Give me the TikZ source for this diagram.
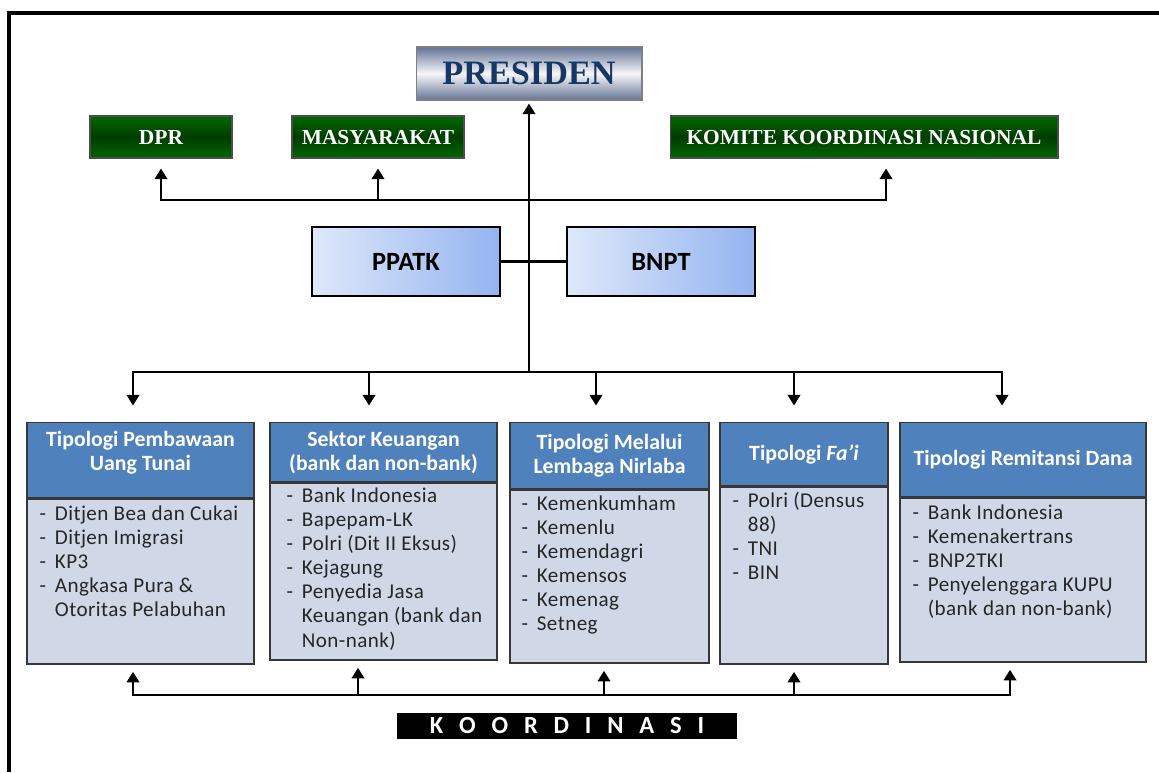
\documentclass[tikz,border=0pt]{standalone}
\usepackage{fontspec}
\setmainfont{Carlito}
\newfontfamily\titlefont{Liberation Serif}
\newfontfamily\listfont[LetterSpace=2]{Carlito}
\usetikzlibrary{positioning,arrows.meta}

\definecolor{presblue}{RGB}{23,55,100}
\definecolor{presedge}{RGB}{100,116,150}
\definecolor{grnlight}{RGB}{0,104,0}
\definecolor{grndark}{RGB}{0,60,0}
\definecolor{boxblue}{RGB}{79,129,189}
\definecolor{boxbody}{RGB}{208,216,232}
\definecolor{boxedge}{RGB}{55,55,55}
\definecolor{ppleft}{RGB}{222,232,250}
\definecolor{ppright}{RGB}{148,180,240}

\newcommand{\dashlist}[1]{\begin{tabular}{@{}l@{\hspace{5pt}}l@{}}#1\end{tabular}}
\newcommand{\ks}{\hspace{9pt}}

\tikzset{
  line/.style={line width=1.5pt},
  arr/.style={line width=1.5pt, -{Triangle[length=6pt,width=7pt]}},
  presbox/.style={draw=gray, line width=0.6pt, top color=presedge, bottom color=presedge,
    middle color=white!94!presedge, text=presblue, inner sep=0pt,
    font=\titlefont\bfseries\fontsize{19.5}{22}\selectfont},
  greenbox/.style={draw=black!70, line width=0.6pt, top color=grnlight, bottom color=grnlight,
    middle color=grndark, text=white, inner sep=0pt, minimum height=0.84cm,
    font=\titlefont\bfseries\fontsize{12.2}{14}\selectfont},
  agency/.style={draw=black, line width=1.2pt, left color=ppleft, right color=ppright,
    minimum width=3.76cm, minimum height=1.38cm, inner sep=0pt,
    font=\bfseries\fontsize{15}{18}\selectfont},
  hd/.style={draw=boxedge, line width=0.8pt, fill=boxblue, text=white, align=center,
    anchor=north, inner sep=0pt, font=\bfseries\fontsize{12.4}{13.7}\selectfont},
  bd/.style={draw=boxedge, line width=0.8pt, fill=boxbody, inner sep=0pt},
  ls/.style={inner sep=0pt, text=black!85, font=\listfont\fontsize{12}{13.7}\selectfont}
}

\begin{document}
\begin{tikzpicture}[x=0.02cm, y=-0.02cm]
  \useasboundingbox (0,0) rectangle (1159,772);
  \draw[line width=1.8pt] (9,772) -- (9,13) -- (1159,13);

  \node (presiden) [presbox, minimum width=4.52cm, minimum height=1.06cm] at (529,73.5) {PRESIDEN};
  \node (dpr) [greenbox, minimum width=2.84cm] at (161,137) {DPR};
  \node (masy) [greenbox, minimum width=3.44cm] at (378,137) {MASYARAKAT};
  \node (komite) [greenbox, minimum width=7.76cm] at (864,137) {KOMITE KOORDINASI NASIONAL};
  \node (ppatk) [agency] at (406,261.5) {PPATK};
  \node (bnpt) [agency] at (661,261.5) {BNPT};

  \node (hd1) [hd, minimum width=4.54cm, minimum height=1.5cm, text depth=11pt] at (140.5,422) {Tipologi Pembawaan\\Uang Tunai};
  \node (bd1) [bd, below=0pt of hd1, minimum width=4.54cm, minimum height=3.3cm] {};
  \node (ls1) [ls, below right=0.1cm and 0.26cm of bd1.north west] {\dashlist{
    - & Ditjen Bea dan Cukai\\
    - & Ditjen Imigrasi\\
    - & KP3\\
    - & Angkasa Pura \&\\
      & Otoritas Pelabuhan}};

  \node (hd2) [hd, minimum width=4.54cm, minimum height=1.18cm] at (383.5,422) {Sektor Keuangan\\(bank dan non-bank)};
  \node (bd2) [bd, below=0pt of hd2, minimum width=4.54cm, minimum height=3.54cm] {};
  \node (ls2) [ls, below right=0.06cm and 0.34cm of bd2.north west] {\dashlist{
    - & Bank Indonesia\\
    - & Bapepam-LK\\
    - & Polri (Dit II Eksus)\\
    - & Kejagung\\
    - & Penyedia Jasa\\
      & Keuangan (bank dan\\
      & Non-nank)}};

  \node (hd3) [hd, minimum width=3.98cm, minimum height=1.32cm] at (609.5,422) {Tipologi Melalui\\Lembaga Nirlaba};
  \node (bd3) [bd, below=0pt of hd3, minimum width=3.98cm, minimum height=3.46cm] {};
  \node (ls3) [ls, below right=0.08cm and 0.24cm of bd3.north west] {\dashlist{
    - & Kemenkumham\\
    - & Kemenlu\\
    - & Kemendagri\\
    - & Kemensos\\
    - & Kemenag\\
    - & Setneg}};

  \node (hd4) [hd, minimum width=3.36cm, minimum height=1.26cm] at (804,422) {Tipologi \textit{Fa’i}};
  \node (bd4) [bd, below=0pt of hd4, minimum width=3.36cm, minimum height=3.54cm] {};
  \node (ls4) [ls, below right=0.08cm and 0.26cm of bd4.north west] {\dashlist{
    - & Polri (Densus\\
      & 88)\\
    - & TNI\\
    - & BIN}};

  \node (hd5) [hd, minimum width=4.92cm, minimum height=1.48cm] at (1023,422) {Tipologi Remitansi Dana};
  \node (bd5) [bd, below=0pt of hd5, minimum width=4.92cm, minimum height=3.28cm] {};
  \node (ls5) [ls, below right=0.1cm and 0.26cm of bd5.north west] {\dashlist{
    - & Bank Indonesia\\
    - & Kemenakertrans\\
    - & BNP2TKI\\
    - & Penyelenggara KUPU\\
      & (bank dan non-bank)}};

  \node (koord) [fill=black, text=white, inner sep=0pt, minimum width=6.8cm, minimum height=0.52cm,
    font=\bfseries\fontsize{14}{16}\selectfont] at (567,726) {K\ks O\ks O\ks R\ks D\ks I\ks N\ks A\ks S\ks I};

  \coordinate (top) at (529,200);
  \coordinate (hub) at (529,372);
  \coordinate (base) at (604,695);

  \draw[arr, shorten >=0.06cm] (hub) -- (presiden);
  \draw[arr, shorten >=0.2cm] (top) -| (dpr);
  \draw[arr, shorten >=0.2cm] (top) -| (masy);
  \draw[arr, shorten >=0.2cm] (top) -| ([xshift=0.44cm]komite.south);
  \draw[line] (ppatk) -- (bnpt);

  \draw[arr, shorten >=0.33cm] (hub) -| ([xshift=-0.15cm]hd1.north);
  \draw[arr, shorten >=0.33cm] (hub) -| ([xshift=-0.29cm]hd2.north);
  \draw[arr, shorten >=0.33cm] (hub) -| ([xshift=-0.27cm]hd3.north);
  \draw[arr, shorten >=0.33cm] (hub) -| ([xshift=-0.2cm]hd4.north);
  \draw[arr, shorten >=0.33cm] (hub) -| ([xshift=-0.42cm]hd5.north);

  \draw[arr, shorten >=0.14cm] (base) -| ([xshift=-0.15cm]bd1.south);
  \draw[arr, shorten >=0.14cm] (base) -| ([xshift=-0.51cm]bd2.south);
  \draw[arr, shorten >=0.14cm] (base) -| ([xshift=-0.11cm]bd3.south);
  \draw[arr, shorten >=0.14cm] (base) -| ([xshift=-0.2cm]bd4.south);
  \draw[arr, shorten >=0.14cm] (base) -| ([xshift=-0.26cm]bd5.south);
\end{tikzpicture}
\end{document}
